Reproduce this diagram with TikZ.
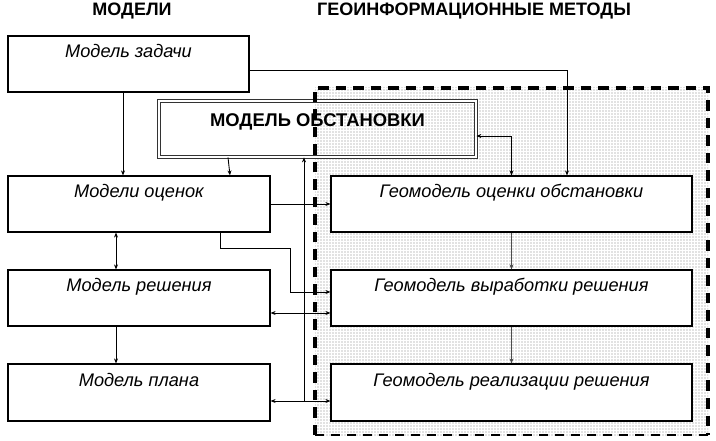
\documentclass[tikz,border=0pt]{standalone}
\usepackage{fontspec}
\setmainfont{Liberation Sans}
\usetikzlibrary{arrows.meta,patterns.meta}
\begin{document}
\begin{tikzpicture}[x=1pt,y=-1pt,
  box/.style={draw, line width=1.2pt, fill=white, inner sep=0pt, minimum height=56pt,
    text height=22pt, text depth=34pt, font=\fontsize{18.2}{21}\selectfont\itshape},
  head/.style={inner sep=0pt, anchor=base, font=\fontsize{18}{21}\selectfont\bfseries},
  conn/.style={line width=0.9pt},
  arr/.style={conn, -{Stealth[length=5pt,width=4pt]}},
  arrboth/.style={conn, {Stealth[length=5pt,width=4pt]}-{Stealth[length=5pt,width=4pt]}},
  region/.style={line width=3.6pt, dash pattern=on 10.5pt off 7pt}
]
\useasboundingbox (0,0) rectangle (716,441);
% dotted region
\fill[pattern={Dots[distance=3pt,radius=0.6pt]}, pattern color=gray] (315,88) rectangle (708,435);

% headings
\node[head] (h1) at (132,15.5) {МОДЕЛИ};
\node[head] (h2) at (474,15.5) {ГЕОИНФОРМАЦИОННЫЕ МЕТОДЫ};

% boxes
\node[box, minimum width=241pt] (mz) at (128.5,64) {Модель задачи};
\node[draw=black!80, double=white, double distance=1.6pt, line width=0.8pt, inner sep=0pt,
  minimum width=317pt, minimum height=56pt, text height=26pt, text depth=30pt,
  font=\fontsize{18.4}{21}\selectfont\bfseries] (mo) at (317.5,129) {МОДЕЛЬ ОБСТАНОВКИ};
\node[box, minimum width=262pt] (mocen) at (139,204) {Модели оценок};
\node[box, minimum width=262pt] (mres) at (139,298) {Модель решения};
\node[box, minimum width=262pt, minimum height=57pt, text depth=35pt] (mplan) at (139,392.5) {Модель плана};
\node[box, minimum width=361pt] (g1) at (511.5,204) {Геомодель оценки обстановки};
\node[box, minimum width=361pt] (g2) at (511.5,298) {Геомодель выработки решения};
\node[box, minimum width=361pt, minimum height=57pt, text depth=35pt] (g3) at (511.5,392.5) {Геомодель реализации решения};

% dashed border
\draw[region] (315,435) -- (315,88) -- (708,88) -- (708,435);
\draw[line width=1.8pt, dash pattern=on 9pt off 7pt] (315,435) -- (708,435);

% helper coordinates
\coordinate (a1) at ([xshift=-5.5pt]mz.south);
\coordinate (a2) at ([yshift=-6pt]mz.east);
\coordinate (a3) at ([xshift=55.5pt]g1.north);
\coordinate (b1) at ([xshift=-89.5pt]mo.south);
\coordinate (b2) at ([xshift=91pt]mocen.north);
\coordinate (c1) at ([xshift=-13.5pt]mo.south);
\coordinate (jl) at ([yshift=-8.5pt]mplan.east);
\coordinate (jr) at ([yshift=-8.5pt]g3.west);
\coordinate (d1) at ([yshift=-7pt]mo.east);
\coordinate (e1) at ([xshift=81pt]mocen.south);
\coordinate (e2) at ([yshift=6pt]g2.west);
\coordinate (f1) at ([yshift=-15pt]mres.east);
\coordinate (f2) at ([yshift=-15pt]g2.west);
\coordinate (l1) at ([xshift=-23pt]mocen.south);
\coordinate (l2) at ([xshift=-23pt]mres.north);
\coordinate (l3) at ([xshift=-23pt]mres.south);
\coordinate (l4) at ([xshift=-23pt]mplan.north);

% connectors
\draw[arr] (a1) -- (a1 |- mocen.north);
\draw[arr] (a2) -| (a3);
\draw[arr] (b1) -- (b2);
\draw[arr] (c1 |- jl) -- (c1);
\draw[arrboth] (g1.north) |- (d1);
\draw[arr] (mocen.east) -- (g1.west);
\draw[arr] (e1) -- ++(0,16) -- ++(70,0) |- (e2);
\draw[arrboth] (f1) -- (f2);
\draw[arrboth] (jl) -- (jr);
\draw[arrboth] (l1) -- (l2);
\draw[arr] (l3) -- (l4);
\draw[arr, draw=black!70] (g1.south) -- (g2.north);
\draw[arr, draw=black!70] (g2.south) -- (g3.north);
\end{tikzpicture}
\end{document}
